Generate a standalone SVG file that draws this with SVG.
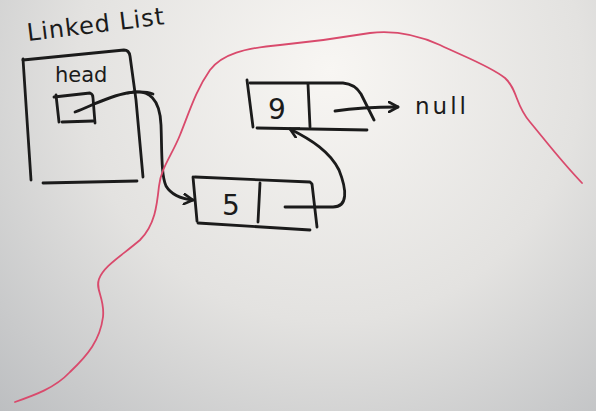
<svg xmlns="http://www.w3.org/2000/svg" width="596" height="411" viewBox="0 0 596 411">
<defs>
<radialGradient id="bg" cx="330" cy="70" r="560" gradientUnits="userSpaceOnUse">
<stop offset="0" stop-color="#f8f6f3"/>
<stop offset="0.45" stop-color="#e3e2e0"/>
<stop offset="1" stop-color="#aeb1b5"/>
</radialGradient>
<marker id="ah" viewBox="0 0 12 12" refX="10" refY="6" markerWidth="12" markerHeight="12" markerUnits="userSpaceOnUse" orient="auto">
<path d="M1,1 L10,6 L1,11" fill="none" stroke="#1b1b1b" stroke-width="2.6" stroke-linecap="round" stroke-linejoin="round"/>
</marker>
<style>
.ink{fill:none;stroke:#1b1b1b;stroke-width:2.8;stroke-linecap:round;stroke-linejoin:round}
.red{fill:none;stroke:#d94a6c;stroke-width:1.8;stroke-linecap:round;stroke-linejoin:round}
.txt{font-family:"DejaVu Sans","Liberation Sans",sans-serif;fill:#1b1b1b}
</style>
</defs>
<rect width="596" height="411" fill="url(#bg)"/>

<g id="title">
<text class="txt" x="28" y="41" font-size="24" letter-spacing="1" transform="rotate(-7 28 41)">Linked List</text>
</g>

<g id="list-object">
<path class="ink" d="M23,59 L31,180"/>
<path class="ink" d="M23,60 L124,50 Q129,50 130,56 L136,100 L143,177"/>
<path class="ink" d="M43,183 L137,181"/>
<text class="txt" x="55" y="82" font-size="21">head</text>
<g id="head-pointer-box">
<path class="ink" d="M56,95 L59,122"/>
<path class="ink" d="M54,97 L90,93 Q93,94 93,98 L95,123"/>
<path class="ink" d="M62,122 L93,121"/>
</g>
</g>

<g id="node9">
<path class="ink" d="M247,80 L253,127"/>
<path class="ink" d="M250,83 L343,83 Q355,84 361,94 L374,120"/>
<path class="ink" d="M308,84 L310,127"/>
<path class="ink" d="M257,128 L367,130"/>
<text class="txt" x="277" y="119" font-size="28" text-anchor="middle">9</text>
</g>

<g id="node5">
<path class="ink" d="M193,177 L197,221"/>
<path class="ink" d="M195,177 L310,182 L312,184 L317,227"/>
<path class="ink" d="M260,183 L258,222"/>
<path class="ink" d="M198,223 L310,230"/>
<text class="txt" x="231" y="215" font-size="28" text-anchor="middle">5</text>
</g>

<g id="null">
<text class="txt" x="415" y="114" font-size="23" letter-spacing="3">null</text>
</g>

<g id="connectors">
<path class="ink" d="M75,112 C95,104 110,96 127,93 C140,91 148,92 153,94" />
<path class="ink" marker-end="url(#ah)" d="M128,93 C150,88 160,100 161,125 C162,150 161,175 166,186 C172,196 183,199 193,200"/>
<path class="ink" marker-end="url(#ah)" d="M285,207 L333,207 C348,207 347,190 339,170 C330,152 312,140 290,129"/>
<path class="ink" marker-end="url(#ah)" d="M335,111 C355,108 375,107 398,107"/>
</g>

<g id="boundary">
<path class="red" d="M15,402 C35,395 55,388 70,372 C88,355 100,340 103,317 C105,298 95,290 99,279 C104,266 120,257 140,240 C155,225 157,205 159,186 C161,168 172,155 180,135 C190,110 196,90 210,70 C222,54 245,48 280,45 C310,42 340,38 370,33 C395,30 420,36 440,45 C465,57 490,66 505,78 C518,90 515,105 530,122 C545,140 560,160 582,183"/>
</g>
</svg>
